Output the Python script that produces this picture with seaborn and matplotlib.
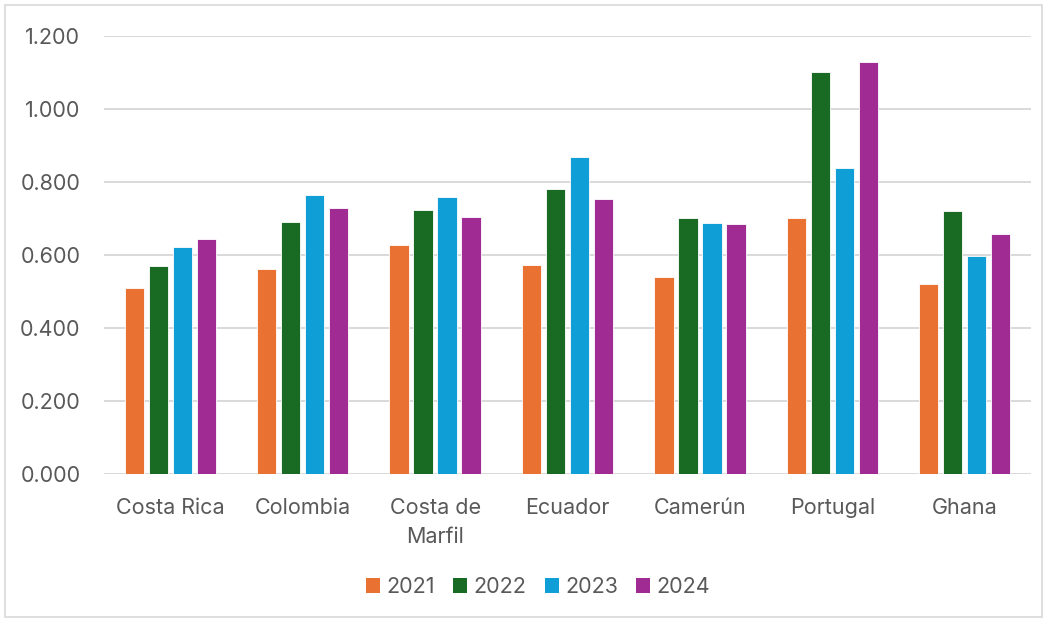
import matplotlib
matplotlib.use("Agg")
import matplotlib.pyplot as plt
import seaborn as sns
import pandas as pd
from matplotlib.patches import Rectangle, Patch
from matplotlib.ticker import FuncFormatter, MultipleLocator

countries = ["Costa Rica", "Colombia", "Costa de\nMarfil", "Ecuador", "Camerún", "Portugal", "Ghana"]
years = ["2021", "2022", "2023", "2024"]
v2021 = [0.510, 0.562, 0.627, 0.572, 0.540, 0.701, 0.521]
v2022 = [0.569, 0.690, 0.723, 0.780, 0.701, 1.101, 0.721]
v2023 = [0.623, 0.765, 0.758, 0.868, 0.688, 0.837, 0.597]
v2024 = [0.644, 0.728, 0.703, 0.753, 0.685, 1.128, 0.658]
colors = ["#E97132", "#196B24", "#0F9ED5", "#A02B93"]

rows = []
for yr, vals in zip(years, [v2021, v2022, v2023, v2024]):
    for c, v in zip(countries, vals):
        rows.append({"country": c, "year": yr, "value": v})
df = pd.DataFrame(rows)

sns.set_theme(style="white")
plt.rcParams["font.family"] = ["Inter", "DejaVu Sans"]
FS = 15.5
TXT = "#595959"

fig = plt.figure(figsize=(10.48, 6.22), dpi=100)
ax = fig.add_axes([104/1048, 1 - 474/622, 927/1048, 438/622])

sns.barplot(data=df, x="country", y="value", hue="year", order=countries,
            hue_order=years, palette=colors, width=0.725, gap=0.2,
            edgecolor="white", linewidth=0.6, saturation=1, ax=ax, legend=False)

ax.set_ylim(0, 1.2)
ax.set_xlim(-0.5, len(countries) - 0.5)
ax.yaxis.set_major_locator(MultipleLocator(0.2))
ax.yaxis.set_major_formatter(FuncFormatter(lambda v, p: f"{v:.3f}"))
ax.grid(axis="y", color="#D9D9D9", linewidth=1.4)
ax.set_axisbelow(True)
for s in ax.spines.values():
    s.set_visible(False)
ax.set_xlabel("")
ax.set_ylabel("")
ax.tick_params(axis="y", length=0, pad=17, labelsize=FS, labelcolor=TXT)
ax.tick_params(axis="x", length=0, pad=17, labelsize=FS, labelcolor=TXT)
for t in ax.get_xticklabels():
    t.set_linespacing(1.6)

handles = [Patch(facecolor=c, edgecolor="none") for c in colors]
fig.legend(handles, years, loc="center", bbox_to_anchor=(538/1048, 1 - 587/622),
           ncol=4, frameon=False, fontsize=FS, labelcolor=TXT,
           handlelength=0.65, handleheight=0.65, handletextpad=0.3, columnspacing=0.85)

fig.patches.append(Rectangle((5/1048, 5/622), 1037/1048, 612/622, transform=fig.transFigure,
                             fill=False, edgecolor="#D9D9D9", linewidth=1.2))

fig.savefig("out.png", dpi=100)
